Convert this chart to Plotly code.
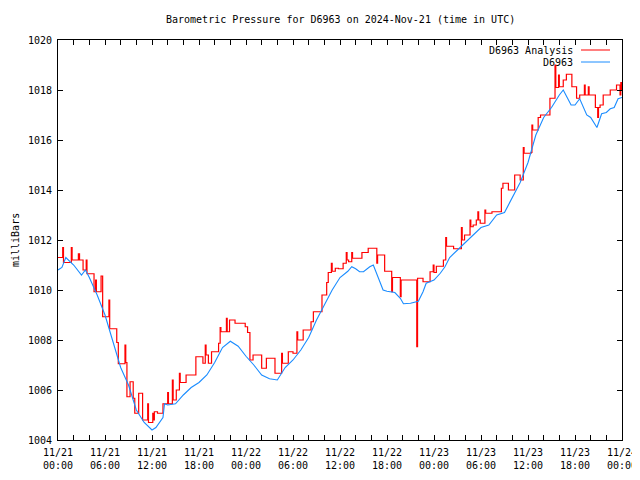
import pandas as pd
import plotly.graph_objects as go

START = pd.Timestamp("2024-11-21 00:00")

# Observed station pressure (D6963), hours since start -> mbar
obs_hours = [0, 0.5, 1, 2, 3, 3.5, 4, 5, 6, 7, 8, 9, 10, 11, 12, 12.5, 13, 13.4, 13.6, 14, 15, 16, 17, 18,
             19, 20, 21, 22, 23, 24, 25, 26, 27, 28, 29, 30, 31, 32, 33, 34, 35, 36, 37, 37.5, 38, 38.5, 39,
             39.8, 40.25, 41, 41.5, 42, 43, 43.7, 44.1, 45, 46, 46.6, 47, 48, 48.8, 49.4, 50, 51, 52, 53, 54,
             55, 56, 57, 58, 59, 60, 61, 62, 63, 64, 64.5, 65, 65.5, 66, 66.6, 67.5, 68, 68.8, 69.4, 70, 70.5,
             71, 71.5, 72]
obs_mbar = [1010.8, 1010.9, 1011.3, 1011.0, 1010.6, 1010.8, 1010.5, 1009.8, 1009.0, 1008.0, 1006.9, 1006.2,
            1005.2, 1004.7, 1004.4, 1004.5, 1004.7, 1004.9, 1005.45, 1005.4, 1005.45, 1005.8, 1006.1, 1006.3,
            1006.6, 1007.1, 1007.7, 1007.95, 1007.75, 1007.35, 1007.0, 1006.6, 1006.45, 1006.4, 1006.9, 1007.2,
            1007.6, 1008.1, 1008.8, 1009.4, 1010.0, 1010.5, 1010.75, 1010.93, 1010.85, 1010.73, 1010.73,
            1010.93, 1011.0, 1010.4, 1010.0, 1009.95, 1009.9, 1009.67, 1009.45, 1009.47, 1009.55, 1009.93,
            1010.27, 1010.4, 1010.67, 1010.93, 1011.3, 1011.6, 1011.9, 1012.2, 1012.5, 1012.6, 1013.0, 1013.1,
            1013.7, 1014.3, 1015.1, 1016.2, 1016.9, 1017.3, 1017.8, 1018.0, 1017.7, 1017.4, 1017.4, 1017.65,
            1017.0, 1016.9, 1016.5, 1017.05, 1017.1, 1017.25, 1017.3, 1017.65, 1017.7]

# Analysis pressure (D6963 Analysis), stepwise, hours since start -> mbar
ana_hours = [0, 0.6, 0.7, 1.7, 1.8, 2.6, 2.75, 3.2, 3.6, 3.7, 4.6, 4.8, 4.9, 5.5, 5.7, 6.5, 6.6, 7.5, 7.7,
             8.55, 8.65, 8.8, 9.2, 9.6, 9.8, 10.3, 10.8, 11.45, 11.55, 12.1, 12.2, 12.3, 12.7, 13.4, 14.0, 14.1,
             14.6, 14.7, 15.1, 15.5, 15.6, 16.35, 17.6, 18.5, 18.8, 18.9, 19.2, 19.6, 20.5, 20.7, 20.8, 21.5,
             21.6, 21.9, 22.6, 23.9, 24.2, 24.5, 24.9, 26.0, 26.6, 27.7, 28.55, 28.65, 29.4, 30.0, 30.5, 30.6,
             31.3, 32.3, 32.6, 33.7, 34.3, 34.5, 34.9, 35.0, 35.4, 35.8, 36.4, 36.8, 36.9, 37.1, 37.5, 37.6,
             38.8, 39.6, 40.7, 40.8, 41.7, 42.6, 42.7, 43.7, 43.8, 45.8, 45.9, 46.6, 47.5, 47.9, 48.0, 48.3,
             49.2, 49.5, 49.6, 50.5, 51.5, 51.6, 51.9, 52.6, 52.7, 53.0, 53.4, 53.6, 53.7, 53.9, 54.5, 54.6,
             55.4, 56.6, 56.8, 57.5, 58.3, 59.0, 59.4, 59.5, 60.4, 60.5, 60.6, 61.3, 61.6, 62.8, 63.45, 63.55,
             63.9, 64.0, 64.5, 64.9, 65.6, 66.2, 66.6, 67.2, 67.3, 67.7, 67.8, 68.6, 68.9, 69.0, 69.2, 69.6,
             70.5, 71.3, 71.75, 71.85, 72]
ana_mbar = [1011.3, 1011.7, 1011.1, 1011.7, 1011.2, 1011.45, 1011.2, 1010.8, 1011.2, 1010.65, 1009.93,
            1010.4, 1009.93, 1010.56, 1008.93, 1009.6, 1008.45, 1007.9, 1007.05, 1007.8, 1007.1, 1005.73,
            1006.33, 1005.67, 1005.07, 1005.87, 1004.8, 1005.45, 1004.7, 1005.07, 1004.8, 1005.13, 1005.07,
            1005.45, 1005.9, 1005.45, 1006.4, 1005.6, 1006.0, 1006.67, 1006.3, 1006.6, 1007.33, 1007.07,
            1007.8, 1007.4, 1007.07, 1007.53, 1007.87, 1008.5, 1008.33, 1008.87, 1008.33, 1008.8, 1008.67,
            1008.53, 1008.3, 1007.2, 1007.4, 1006.87, 1007.27, 1006.67, 1007.47, 1007.07, 1007.53, 1007.47,
            1008.33, 1008.0, 1008.4, 1008.73, 1009.13, 1009.8, 1010.3, 1010.7, 1011.07, 1010.75, 1010.87,
            1010.85, 1011.07, 1011.5, 1011.2, 1011.13, 1011.5, 1011.27, 1011.5, 1011.67, 1011.07, 1011.4,
            1010.75, 1009.93, 1010.5, 1009.73, 1010.4, 1007.73, 1010.47, 1010.33, 1010.73, 1011.0, 1010.7,
            1010.95, 1011.2, 1012.1, 1011.75, 1011.65, 1012.5, 1012.0, 1012.2, 1012.8, 1012.53, 1012.6,
            1012.8, 1013.13, 1012.8, 1012.67, 1013.2, 1013.07, 1013.13, 1014.07, 1014.27, 1014.0, 1014.6,
            1014.4, 1015.7, 1015.47, 1015.5, 1016.6, 1016.4, 1016.9, 1017.0, 1017.67, 1019.0, 1018.1, 1018.6,
            1018.13, 1018.4, 1018.63, 1018.13, 1017.67, 1017.8, 1018.2, 1017.8, 1018.13, 1017.8, 1017.3,
            1016.9, 1017.3, 1017.4, 1017.8, 1018.0, 1018.2, 1017.8, 1018.3, 1018.0]

tick_hours = list(range(0, 73, 2))
y_ticks = [1004, 1006, 1008, 1010, 1012, 1014, 1016, 1018, 1020]


def to_time(hours):
    return [START + pd.Timedelta(hours=h) for h in hours]


FONT = "DejaVu Sans Mono"
RED = "#ff0000"
BLUE = "#1a8cff"

fig = go.Figure()
fig.add_trace(go.Scatter(x=to_time(ana_hours), y=ana_mbar, mode="lines", line_shape="hv",
                         line=dict(color=RED, width=1.2), name="D6963 Analysis", showlegend=False))
fig.add_trace(go.Scatter(x=to_time(obs_hours), y=obs_mbar, mode="lines",
                         line=dict(color=BLUE, width=1.1), name="D6963", showlegend=False))

tick_text = []
for h in tick_hours:
    if h % 6 == 0:
        t = START + pd.Timedelta(hours=h)
        tick_text.append(t.strftime("%m/%d") + "<br>" + t.strftime("%H:%M"))
    else:
        tick_text.append("")

# page body adds an 8px offset; figure is sized so the plot box lands at x 58-622, y 40-440
fig.update_layout(
    width=632, height=464,
    margin=dict(l=50, r=18, t=32, b=32, autoexpand=False),
    paper_bgcolor="white", plot_bgcolor="white",
    font=dict(family=FONT, size=10, color="black"),
    xaxis=dict(range=[START, START + pd.Timedelta(hours=72)], tickmode="array",
               tickvals=to_time(tick_hours), ticktext=tick_text, ticks="inside", ticklen=5,
               tickcolor="black", showline=True, linecolor="black", linewidth=1, mirror="ticks",
               showgrid=False, zeroline=False, tickfont=dict(family=FONT, size=10),
               automargin=False, ticklabelstandoff=3, ticklabeloverflow="allow"),
    yaxis=dict(range=[1004, 1020], tickmode="array", tickvals=y_ticks,
               ticktext=[str(v) for v in y_ticks], ticks="inside", ticklen=5, tickcolor="black",
               showline=True, linecolor="black", linewidth=1, mirror="ticks", showgrid=False,
               zeroline=False, tickfont=dict(family=FONT, size=10),
               automargin=False, ticklabelstandoff=3, ticklabeloverflow="allow"),
    showlegend=False,
)

fig.add_annotation(text="Barometric Pressure for D6963 on 2024-Nov-21 (time in UTC)",
                   xref="paper", yref="paper", x=0.5, y=(440 - 20) / 400,
                   xanchor="center", yanchor="middle", showarrow=False,
                   font=dict(family=FONT, size=10))

fig.add_annotation(text="milliBars", xref="paper", yref="paper", x=0, y=0.5, xshift=-43,
                   textangle=-90, showarrow=False, font=dict(family=FONT, size=10),
                   xanchor="center", yanchor="middle")

legend_items = [("D6963 Analysis", RED, 50), ("D6963", BLUE, 62)]
for label, color, ypix in legend_items:
    yp = (440 - ypix) / 400
    fig.add_annotation(text=label, xref="paper", yref="paper", x=(575 - 58) / 564, y=yp,
                       xanchor="right", yanchor="middle", showarrow=False,
                       font=dict(family=FONT, size=10))
    fig.add_shape(type="line", xref="paper", yref="paper", x0=(581 - 58) / 564, x1=(610 - 58) / 564,
                  y0=yp, y1=yp, line=dict(color=color, width=1))

fig.write_html("out.html")
